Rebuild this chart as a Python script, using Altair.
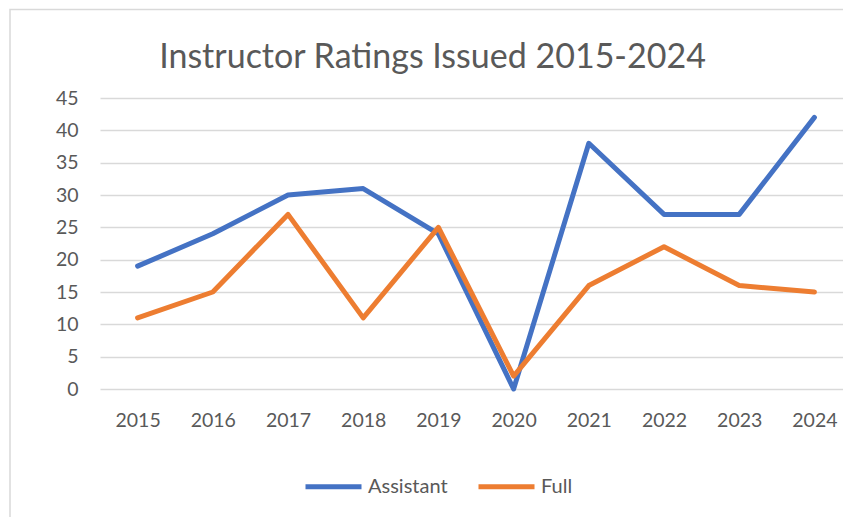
import altair as alt
import pandas as pd

years = [2015, 2016, 2017, 2018, 2019, 2020, 2021, 2022, 2023, 2024]
assistant = [19, 24, 30, 31, 24, 0, 38, 27, 27, 42]
full = [11, 15, 27, 11, 25, 2, 16, 22, 16, 15]
series_names = ["Assistant", "Full"]
series_colors = ["#4472C4", "#ED7D31"]
y_ticks = [0, 5, 10, 15, 20, 25, 30, 35, 40, 45]

df = pd.DataFrame({"Year": years, "Assistant": assistant, "Full": full})
long = df.melt(id_vars="Year", var_name="Series", value_name="Value")
long["order"] = long["Series"].map({s: i for i, s in enumerate(series_names)})

FONT = "Lato"
TXT = "#595959"
GRID = "#d9d9d9"

border = alt.Chart(pd.DataFrame({"a": [0]})).mark_rect(
    fill=None, stroke=GRID, strokeWidth=1.5
).encode(
    x=alt.value(-90), x2=alt.value(800), y=alt.value(-88.5), y2=alt.value(500)
)

lines = alt.Chart(long).mark_line(
    strokeWidth=5, strokeCap="round", strokeJoin="round"
).encode(
    x=alt.X("Year:Q",
            scale=alt.Scale(domain=[2014.5, 2024.38], nice=False, zero=False),
            axis=alt.Axis(values=years, format="d", title=None, grid=False,
                          ticks=False, domain=False, labelFontSize=19.5,
                          labelColor=TXT, labelFont=FONT, labelPadding=22,
                          labelFlush=False)),
    y=alt.Y("Value:Q",
            scale=alt.Scale(domain=[0, 45], nice=False),
            axis=alt.Axis(values=y_ticks, title=None, grid=True, gridColor=GRID,
                          gridWidth=1.5, ticks=False, domain=False,
                          labelFontSize=19.5, labelColor=TXT, labelFont=FONT,
                          labelPadding=22)),
    color=alt.Color("Series:N",
                    scale=alt.Scale(domain=series_names, range=series_colors),
                    legend=alt.Legend(title=None, orient="none", direction="horizontal",
                                      legendX=203, legendY=358,
                                      symbolType="stroke", symbolSize=3136,
                                      symbolStrokeWidth=5, labelFontSize=20,
                                      labelFont=FONT, labelColor=TXT,
                                      labelOffset=4, columnPadding=20)),
    order=alt.Order("order:Q"),
    detail="Series:N",
)

chart = alt.layer(border, lines).properties(
    width=743,
    height=291,
    autosize=alt.AutoSizeParams(type="none"),
    padding={"left": 100, "top": 98, "right": 0, "bottom": 128},
    title=alt.TitleParams("Instructor Ratings Issued 2015-2024", font=FONT,
                          fontSize=34, fontWeight="normal", color=TXT,
                          anchor="middle", dx=-39, offset=-66),
).configure_view(stroke=None)

chart.save("out.html", embed_options={"renderer": "svg", "actions": False})
